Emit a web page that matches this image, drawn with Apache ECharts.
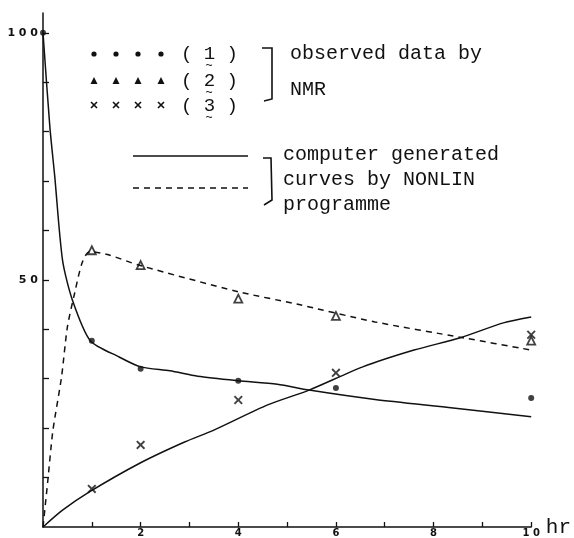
<!DOCTYPE html>
<html>
<head>
<meta charset="utf-8">
<script src="https://cdn.jsdelivr.net/npm/echarts@6/dist/echarts.min.js"></script>
<style>
  html, body { margin: 0; padding: 0; background: #fff; }
  #chart { width: 574px; height: 538px; }
</style>
</head>
<body>
<div id="chart"></div>
<script>
  // observed data by NMR (hr, value)
  const circleT = [0, 1, 2, 4, 6, 10];
  const circleY = [100, 37.7, 32.0, 29.6, 28.1, 26.1];
  const triT = [1, 2, 4, 6, 10];
  const triY = [56, 53, 46.2, 42.7, 37.7];
  const crossT = [1, 2, 4, 6, 10];
  const crossY = [7.7, 16.6, 25.7, 31.2, 38.9];

  // computer generated curves (NONLIN)
  const curve1T = [0, 0.14, 0.24, 0.4, 0.6, 0.97, 1.56, 2, 2.6, 3.17, 4, 4.8, 5.45, 6.8, 8.4, 10];
  const curve1Y = [100, 81, 71, 54, 46, 37.7, 34.4, 32.4, 31.6, 30.5, 29.6, 28.9, 27.7, 25.8, 24.1, 22.3];
  const curve2T = [0, 0.1, 0.2, 0.38, 0.5, 0.65, 0.8, 0.95, 1.3, 1.96, 4, 5.2, 6.8, 8.6, 10];
  const curve2Y = [0, 9.5, 19.3, 30.4, 40.5, 47.4, 53.4, 55.7, 55.2, 53, 47.6, 45.1, 41.5, 38.3, 35.8];
  const curve3T = [0, 0.4, 0.95, 2, 2.9, 3.5, 4.6, 5.45, 6.55, 7.6, 8.55, 9.43, 10];
  const curve3Y = [0, 3.4, 7.1, 13, 17.2, 19.6, 24.7, 27.7, 32.4, 35.8, 38.3, 41.3, 42.5];

  // axis ticks / labels
  const xTicks = [1, 2, 3, 4, 5, 6, 7, 8, 9, 10];
  const xLabels = [2, 4, 6, 8, 10];
  const yTicks = [10, 20, 30, 40, 50, 60, 70, 80, 90, 100];
  const yLabels = [50, 100];

  const zip = (a, b) => a.map((v, i) => [v, b[i]]);
  const spaced = v => String(v).split('').join(' ');
  const ink = '#111';
  const mono = 'Liberation Mono';

  const chart = echarts.init(document.getElementById('chart'));

  // legend drawn by hand (rows of markers + brackets)
  const legend = [];
  const mx = [94, 116, 138, 161];
  mx.forEach(x => {
    legend.push({ type: 'circle', shape: { cx: x, cy: 54, r: 2.6 }, style: { fill: ink } });
    legend.push({ type: 'polygon', shape: { points: [[x, 77], [x - 3.5, 84], [x + 3.5, 84]] }, style: { fill: ink } });
    legend.push({ type: 'polyline', shape: { points: [[x - 3, 102], [x + 3, 108]] }, style: { stroke: ink, lineWidth: 1.6 } });
    legend.push({ type: 'polyline', shape: { points: [[x + 3, 102], [x - 3, 108]] }, style: { stroke: ink, lineWidth: 1.6 } });
  });
  [['( 1 )', 54], ['( 2 )', 81], ['( 3 )', 106]].forEach(r => {
    legend.push({ type: 'text', x: 181, y: r[1], style: { text: r[0], font: '19px ' + mono, fill: ink, verticalAlign: 'middle' } });
    legend.push({ type: 'text', x: 209, y: r[1] + 12, style: { text: '~', font: '12px ' + mono, fill: ink, align: 'center', verticalAlign: 'middle' } });
  });
  legend.push({ type: 'polyline', shape: { points: [[262, 48], [272, 48], [272, 99], [264, 101]] }, style: { stroke: ink, lineWidth: 1.6, fill: null } });
  legend.push({ type: 'text', x: 290, y: 54, style: { text: 'observed data by', font: '20px ' + mono, fill: ink, verticalAlign: 'middle' } });
  legend.push({ type: 'text', x: 290, y: 90, style: { text: 'NMR', font: '20px ' + mono, fill: ink, verticalAlign: 'middle' } });

  legend.push({ type: 'line', shape: { x1: 133, y1: 156, x2: 248, y2: 156 }, style: { stroke: ink, lineWidth: 1.5 } });
  legend.push({ type: 'line', shape: { x1: 133, y1: 188, x2: 248, y2: 188 }, style: { stroke: ink, lineWidth: 1.5, lineDash: [6, 5] } });
  legend.push({ type: 'polyline', shape: { points: [[263, 158], [271, 158], [272, 200], [264, 205]] }, style: { stroke: ink, lineWidth: 1.6, fill: null } });
  [['computer generated', 155], ['curves by NONLIN', 180], ['programme', 205]].forEach(r => {
    legend.push({ type: 'text', x: 283, y: r[1], style: { text: r[0], font: '20px ' + mono, fill: ink, verticalAlign: 'middle' } });
  });

  const crossPath = 'path://M0,1.5 L1.5,0 L5,3.5 L8.5,0 L10,1.5 L6.5,5 L10,8.5 L8.5,10 L5,6.5 L1.5,10 L0,8.5 L3.5,5 Z';

  chart.setOption({
    animation: false,
    backgroundColor: '#fff',
    grid: { left: 43, right: 36, top: 13, bottom: 11 },
    xAxis: {
      type: 'value', min: 0, max: 10, interval: 1,
      name: 'hr', nameLocation: 'end', nameGap: 8,
      nameTextStyle: { fontFamily: mono, fontSize: 21, color: ink },
      splitLine: { show: false },
      axisLine: { lineStyle: { color: ink, width: 1.5 } },
      axisTick: { inside: true, length: 5, customValues: xTicks, lineStyle: { color: ink, width: 1.3 } },
      axisLabel: { customValues: xLabels, formatter: spaced, margin: 1, fontSize: 10, fontWeight: 'bold', fontFamily: 'DejaVu Sans', color: ink }
    },
    yAxis: {
      type: 'value', min: 0, max: 104,
      splitLine: { show: false },
      axisLine: { show: true, lineStyle: { color: ink, width: 1.5 } },
      axisTick: { show: true, inside: true, length: 6, customValues: yTicks, lineStyle: { color: ink, width: 1.3 } },
      axisLabel: { customValues: yLabels, formatter: spaced, margin: 5, fontSize: 11, fontWeight: 'bold', fontFamily: 'DejaVu Sans', color: ink }
    },
    graphic: legend,
    series: [
      { type: 'line', data: zip(curve1T, curve1Y), smooth: 0.25, showSymbol: false,
        lineStyle: { color: ink, width: 1.5 } },
      { type: 'line', data: zip(curve2T, curve2Y), smooth: 0.25, showSymbol: false,
        lineStyle: { color: ink, width: 1.5, type: [6, 5] } },
      { type: 'line', data: zip(curve3T, curve3Y), smooth: 0.25, showSymbol: false,
        lineStyle: { color: ink, width: 1.5 } },
      { type: 'scatter', data: zip(circleT, circleY), symbol: 'circle', symbolSize: 6,
        itemStyle: { color: ink } },
      { type: 'scatter', data: zip(triT, triY), symbol: 'triangle', symbolSize: 8,
        itemStyle: { color: '#fff', borderColor: ink, borderWidth: 1.8 } },
      { type: 'scatter', data: zip(crossT, crossY), symbol: crossPath, symbolSize: 9,
        itemStyle: { color: ink } }
    ]
  });
</script>
</body>
</html>
